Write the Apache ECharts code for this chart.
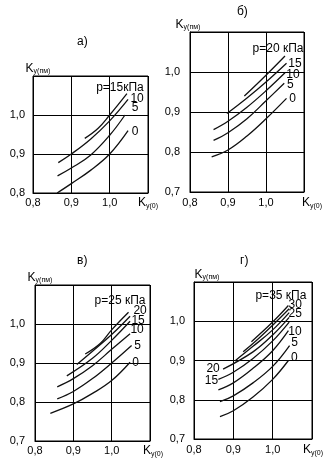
<!DOCTYPE html>
<html><head><meta charset="utf-8">
<script src="https://cdn.jsdelivr.net/npm/echarts@6/dist/echarts.min.js"></script>
<style>html,body{margin:0;padding:0;background:#fff}#c{width:334px;height:467px}</style>
</head><body><div id="c"></div>
<script>
// ---- data ----
const panelTitles = ['а)', 'б)', 'в)', 'г)'];
const xTickValues = [0.8, 0.9, 1.0, 1.1];
const yMinA = 0.8, yMinOther = 0.7, axisMax = 1.1;

// panel а
const a_p15 = [[0.935,0.94],[0.97,0.966],[1.0,1.0],[1.045,1.055]];
const a_p10 = [[0.866,0.878],[0.9,0.9],[0.95,0.938],[1.0,0.985],[1.048,1.04]];
const a_p5  = [[0.864,0.844],[0.9,0.864],[0.95,0.897],[1.0,0.948],[1.04,1.0]];
const a_p0  = [[0.863,0.80],[0.9,0.824],[0.95,0.858],[1.0,0.90],[1.048,0.96]];
const a_labels = ['p=15кПа','10','5','0'];
// panel б
const b_p20 = [[0.943,0.94],[1.0,0.992],[1.05,1.04]];
const b_p15 = [[0.897,0.896],[0.95,0.935],[1.0,0.975],[1.054,1.022]];
const b_p10 = [[0.862,0.856],[0.9,0.877],[0.95,0.912],[1.0,0.953],[1.05,0.998]];
const b_p5  = [[0.862,0.829],[0.9,0.848],[0.95,0.883],[1.0,0.928],[1.048,0.972]];
const b_p0  = [[0.857,0.788],[0.9,0.805],[0.95,0.84],[1.0,0.883],[1.054,0.934]];
const b_labels = ['p=20 кПа','15','10','5','0'];
// panel в
const v_p25 = [[0.931,0.923],[0.97,0.95],[1.0,0.985],[1.044,1.03]];
const v_p20 = [[0.909,0.896],[0.95,0.93],[1.0,0.973],[1.048,1.02]];
const v_p15 = [[0.883,0.867],[0.95,0.912],[1.0,0.958],[1.048,1.007]];
const v_p10 = [[0.858,0.839],[0.9,0.86],[0.95,0.893],[1.0,0.935],[1.048,0.975]];
const v_p5  = [[0.858,0.808],[0.9,0.827],[0.95,0.86],[1.0,0.9],[1.052,0.945]];
const v_p0  = [[0.84,0.771],[0.9,0.795],[0.95,0.822],[1.0,0.855],[1.048,0.902]];
const v_labels = ['p=25 кПа','20','15','10','5','0'];
// panel г
const g_p35 = [[0.946,0.948],[1.0,0.998],[1.04,1.04]];
const g_p30 = [[0.925,0.922],[0.96,0.952],[1.0,0.99],[1.042,1.032]];
const g_p25 = [[0.904,0.899],[0.95,0.936],[1.0,0.978],[1.042,1.022]];
const g_p20 = [[0.874,0.878],[0.95,0.922],[1.0,0.965],[1.042,1.01]];
const g_p15 = [[0.862,0.852],[0.9,0.87],[0.95,0.905],[1.0,0.95],[1.042,0.998]];
const g_p10 = [[0.862,0.825],[0.9,0.843],[0.95,0.88],[1.0,0.925],[1.04,0.976]];
const g_p5  = [[0.866,0.795],[0.9,0.81],[0.95,0.843],[1.0,0.885],[1.043,0.938]];
const g_p0  = [[0.866,0.757],[0.9,0.772],[0.95,0.807],[1.0,0.852],[1.04,0.9]];
const g_labels = ['p=35 кПа','30','25','20','15','10','5','0'];

// ---- styling / layout ----
const FONT = 'Liberation Sans, Arial, sans-serif';
const grids = [
  {left:33, top:76, width:115, height:117},
  {left:190, top:32, width:114, height:160},
  {left:35, top:285, width:115, height:156},
  {left:194, top:282, width:118, height:157}
];
const titlePos = [[77,36],[237,6],[77,255],[240,255]];
const yMins = [yMinA, yMinOther, yMinOther, yMinOther];
const yNamePad = [[0,0,0,10],[0,4,0,0],[0,0,0,10],[0,0,0,26]];
const xNameGap = [-10,-2,-7,-9];
const xNamePadTop = [20,22,20,22];
const yLabelMargin = [8,10,10,9];
const xLabelMargin = [4,5,4,5];

// label placement: [which point: 'end'|'start', dx, dy]
const panels = [
  {curves:[a_p15,a_p10,a_p5,a_p0], labels:a_labels,
   place:[['end',-7,-6],['end',9,-1],['end',10,-7],['end',7,1]]},
  {curves:[b_p20,b_p15,b_p10,b_p5,b_p0], labels:b_labels,
   place:[['end',-7,-7.5],['end',8.5,0],['end',8,2],['end',6,1],['end',6,0]]},
  {curves:[v_p25,v_p20,v_p15,v_p10,v_p5,v_p0], labels:v_labels,
   place:[['end',-8.5,-11.5],['end',10,-6],['end',8,-1],['end',7,-4],['end',6,0],['end',5.5,0]]},
  {curves:[g_p35,g_p30,g_p25,g_p20,g_p15,g_p10,g_p5,g_p0], labels:g_labels,
   place:[['end',-7.5,-9.5],['end',6,-4],['end',6,1],['start',-10,0],['start',-7,1],['end',6.5,1],['end',5,-3],['end',6,-3]]}
];

const fmt = v => (Math.abs(v - axisMax) < 1e-6) ? '' : v.toFixed(1).replace('.', ',');
const richName = {
  k:{fontSize:12, fontFamily:FONT, color:'#000'},
  s:{fontSize:7, fontFamily:FONT, color:'#000', verticalAlign:'bottom', padding:[6,0,0,0]}
};

const option = {
  animation:false,
  backgroundColor:'#fff',
  title: panelTitles.map((t,i)=>({text:t, left:titlePos[i][0], top:titlePos[i][1], padding:0,
    textStyle:{fontSize:12, fontWeight:'normal', color:'#000', fontFamily:FONT}})),
  grid: grids.map(g=>Object.assign({show:true, borderColor:'#000', borderWidth:1, containLabel:false}, g)),
  xAxis: grids.map((g,i)=>({
    gridIndex:i, type:'value', min:xTickValues[0], max:axisMax, interval:0.1,
    name:'{k|K}{s|у(0)}', nameLocation:'end', nameGap:xNameGap[i],
    nameTextStyle:{rich:richName, padding:[xNamePadTop[i],0,0,0]},
    axisLine:{show:true, lineStyle:{color:'#000', width:1}},
    axisTick:{show:false},
    splitLine:{show:true, lineStyle:{color:'#000', width:1}},
    axisLabel:{formatter:fmt, color:'#000', fontSize:11, fontFamily:FONT, margin:xLabelMargin[i]}
  })),
  yAxis: grids.map((g,i)=>({
    gridIndex:i, type:'value', min:yMins[i], max:axisMax, interval:0.1,
    name:'{k|K}{s|у(пм)}', nameLocation:'end', nameGap:1,
    nameTextStyle:{rich:richName, padding:yNamePad[i]},
    axisLine:{show:true, lineStyle:{color:'#000', width:1}},
    axisTick:{show:false},
    splitLine:{show:true, lineStyle:{color:'#000', width:1}},
    axisLabel:{formatter:fmt, color:'#000', fontSize:11, fontFamily:FONT, margin:yLabelMargin[i]}
  })),
  series: []
};

panels.forEach((p, pi) => {
  p.curves.forEach((curve, ci) => {
    const [which, dx, dy] = p.place[ci];
    const idx = which === 'end' ? curve.length - 1 : 0;
    const data = curve.map((pt, k) => k === idx
      ? {value: pt, label:{show:true, formatter:p.labels[ci], position:'inside', offset:[dx,dy],
          color:'#000', fontSize:12, fontFamily:FONT}}
      : {value: pt});
    option.series.push({
      type:'line', xAxisIndex:pi, yAxisIndex:pi, data:data, smooth:0.4,
      symbol:'circle', symbolSize:0, showSymbol:true,
      lineStyle:{color:'#111', width:1.3},
      itemStyle:{color:'#111'},
      label:{show:false},
      emphasis:{disabled:true}, silent:true, z:3
    });
  });
});

const chart = echarts.init(document.getElementById('c'), null, {renderer:'canvas'});
chart.setOption(option);
</script>
</body></html>
